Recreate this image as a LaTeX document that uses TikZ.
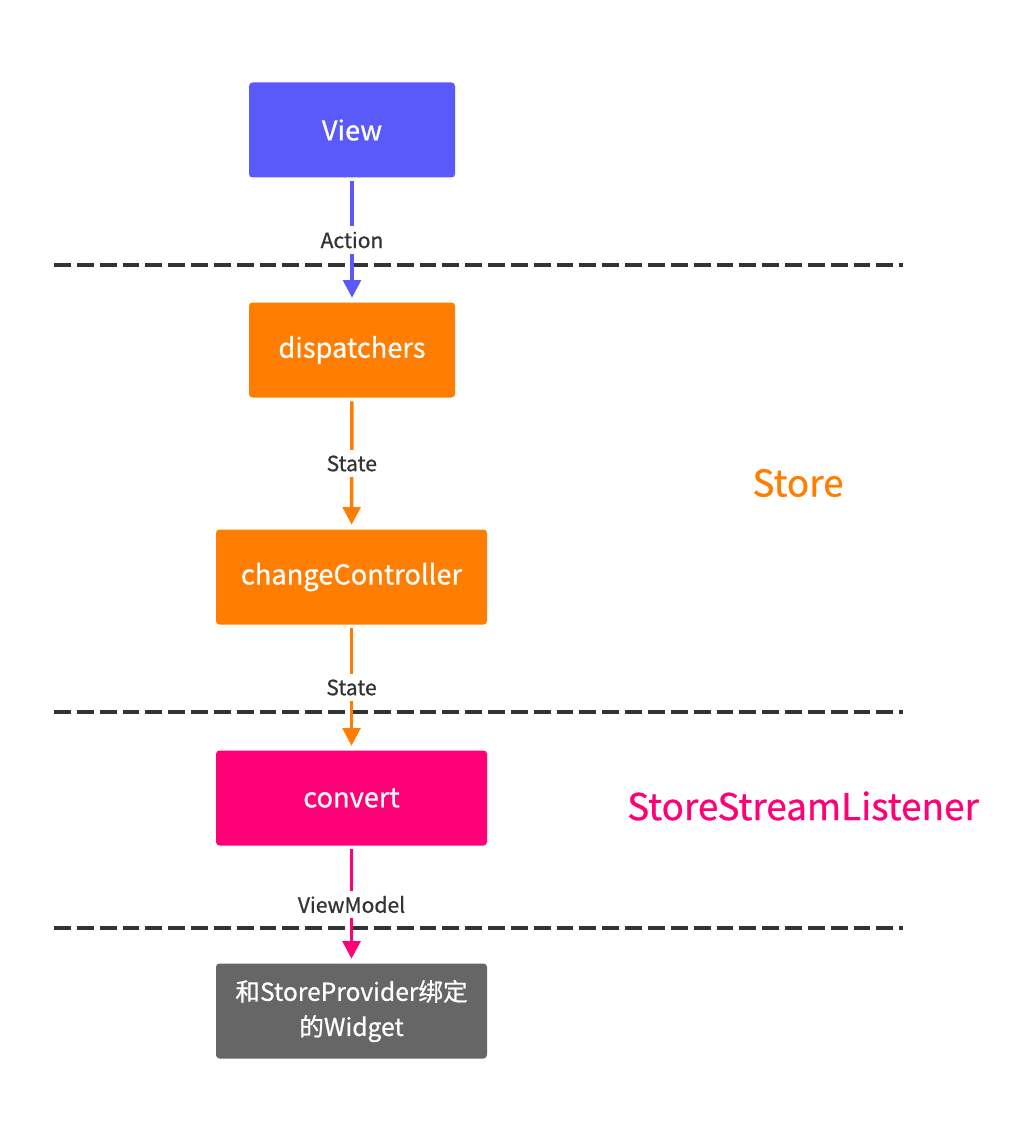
\documentclass[tikz,border=0pt]{standalone}
\usepackage{fontspec}
\setmainfont{Noto Sans CJK SC}
\newfontfamily\medfont{Noto Sans CJK SC}[FakeBold=0.7]
\usepackage{xcolor}
\usetikzlibrary{arrows.meta,positioning}
\definecolor{viewblue}{HTML}{5A5AFA}
\definecolor{storeorange}{HTML}{FF7D00}
\definecolor{listenpink}{HTML}{FF0077}
\definecolor{widgetgray}{HTML}{666666}
\definecolor{labelgray}{HTML}{333333}
\begin{document}
\begin{tikzpicture}[>={Triangle[length=10pt,width=10pt]},
 stage/.style={rounded corners=2pt,align=center,text=white,minimum height=1.9cm,
   font=\medfont\fontsize{15.5}{18}\selectfont},
 viewbox/.style={stage,fill=viewblue,minimum width=4.12cm},
 storebox/.style={stage,fill=storeorange},
 listenbox/.style={stage,fill=listenpink,minimum width=5.42cm},
 widgetbox/.style={stage,fill=widgetgray,minimum width=5.42cm,font=\medfont\fontsize{14}{20}\selectfont},
 layer/.style={font=\medfont\fontsize{21}{24}\selectfont},
 boundary/.style={draw=labelgray,line width=2pt,dash pattern=on 9.6pt off 3.4pt},
 flow/.style={->,line width=2pt,draw=#1,fill=#1,shorten <=2pt,shorten >=2.5pt},
 lbl/.style={fill=white,text=labelgray,inner xsep=1pt,inner ysep=3pt,font=\medfont\fontsize{12}{14}\selectfont}]
\useasboundingbox (0,0) rectangle (20.4,-22.84);
% layer boundaries
\draw[boundary] (1.08,-5.3) coordinate (b1) -- (18.06,-5.3) coordinate (b1e);
\draw[boundary] (1.08,-14.24) coordinate (b2) -- (18.06,-14.24) coordinate (b2e);
\draw[boundary] (1.08,-18.56) coordinate (b3) -- (18.06,-18.56) coordinate (b3e);
% stages
\node[viewbox] (view) at (7.04,-2.6) {View};
\node[storebox,minimum width=4.12cm] (disp) at (7.04,-7.0) {dispatchers};
\node[storebox,minimum width=5.42cm] (ctrl) at (7.03,-11.54) {changeController};
\node[listenbox] (conv) at (7.03,-15.96) {convert};
\node[widgetbox] (widget) at (7.03,-20.22) {和StoreProvider绑定\\的Widget};
% layer names
\node[layer,text=storeorange] (store) at (15.96,-9.66) {Store};
\node[layer,text=listenpink] (listener) at (16.06,-16.12) {StoreStreamListener};
% data flow
\draw[flow=viewblue] (view) -- node[lbl] {Action} (disp);
\draw[flow=storeorange] (disp) -- node[lbl] {State} (ctrl);
\draw[flow=storeorange] (ctrl) -- node[lbl] {State} (conv);
\draw[flow=listenpink] (conv) -- node[lbl] {ViewModel} (widget);
\end{tikzpicture}
\end{document}
